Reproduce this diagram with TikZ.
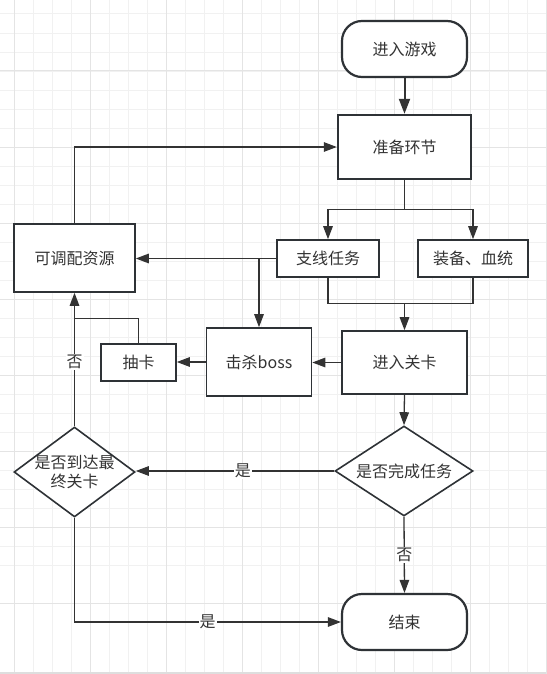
\documentclass[tikz,border=0pt]{standalone}
\usepackage{fontspec}
\setmainfont{Noto Sans CJK SC}
\usetikzlibrary{arrows.meta,shapes.geometric}
\definecolor{ink}{HTML}{333333}
\definecolor{edge}{HTML}{2E3236}
\definecolor{gminor}{HTML}{F1F1F1}
\definecolor{gmajor}{HTML}{E4E4E4}
\definecolor{strip}{HTML}{DEDEDE}
\newcommand\myfs{\fontsize{16}{19}\selectfont}
\begin{document}
\begin{tikzpicture}[x=1pt,y=-1pt,
  box/.style={draw=edge, line width=1.6pt, fill=white, text=ink, inner sep=0pt, font=\myfs, rectangle},
  thickbox/.style={box, line width=2.4pt},
  term/.style={box, line width=2.2pt, rounded corners=20pt},
  decision/.style={diamond, draw=edge, line width=1.6pt, fill=white, inner sep=0pt},
  txt/.style={text=ink, font=\myfs, align=center, inner sep=0pt},
  line/.style={draw=ink, line width=1.3pt},
  conn/.style={line, -{Triangle[length=13pt,width=9.5pt]}},
  thickconn/.style={draw=ink, line width=2pt, -{Triangle[length=15pt,width=11pt]}},
  lbl/.style={fill=white, text=ink, font=\myfs, inner sep=1pt}]
\useasboundingbox (0,0) rectangle (546,674);
\fill[white] (0,0) rectangle (546,674);
% grid
\foreach \i in {-1,...,29} {
  \draw[gminor, line width=1pt] ({14+19.03*\i},0) -- ({14+19.03*\i},674);
  \draw[gminor, line width=1pt] (0,{14+19.03*\i}) -- (546,{14+19.03*\i});
}
\foreach \i in {0,...,8} {
  \draw[gmajor, line width=1pt] ({14+76.12*\i},0) -- ({14+76.12*\i},674);
  \draw[gmajor, line width=1pt] (0,{-5.12+76.12*\i}) -- (546,{-5.12+76.12*\i});
}
\fill[strip] (0,671.5) rectangle (546,674);
% nodes
\node[term, minimum width=125pt, minimum height=56pt] (start) at (404.5,49) {进入游戏};
\node[thickbox, minimum width=133pt, minimum height=64pt] (prep) at (404.5,147) {准备环节};
\node[box, minimum width=121pt, minimum height=68pt] (res) at (74.5,258) {可调配资源};
\node[box, minimum width=102pt, minimum height=37pt] (side) at (328,258.5) {支线任务};
\node[box, minimum width=110pt, minimum height=37pt] (equip) at (473,258.5) {装备、血统};
\node[box, minimum width=75pt, minimum height=37pt] (card) at (138.5,362.5) {抽卡};
\node[box, minimum width=105pt, minimum height=68pt] (boss) at (259,362) {击杀boss};
\node[box, minimum width=125pt, minimum height=63pt] (level) at (404.5,362.5) {进入关卡};
\node[decision, minimum width=138pt, minimum height=90pt] (d1) at (404,471) {};
\node[txt] at (d1) {是否完成任务};
\node[decision, minimum width=121pt, minimum height=90pt] (d2) at (74.5,472) {};
\node[txt] at (d2) {是否到达最\\终关卡};
\node[term, minimum width=125pt, minimum height=56pt] (end) at (404.5,622) {结束};
% connectors
\draw[thickconn] (start) -- (prep);
\draw[conn] (res.north) |- (prep.west);
\coordinate (split) at (404.5,209.3);
\draw[line] (prep.south) -- (split);
\draw[conn] (split) -| (side.north);
\draw[conn] (split) -| (equip.north);
\draw[conn] (side.west) -- (side.west -| res.east);
\draw[conn] (side.west -| boss.north) -- (boss.north);
\coordinate (merge) at (404.5,303.3);
\draw[line] (side.south) |- (merge);
\draw[line] (equip.south) |- (merge);
\draw[conn] (merge) -- (level.north);
\draw[conn] (level.west) -- (level.west -| boss.east);
\draw[conn] (boss.west) -- (boss.west -| card.east);
\coordinate (cj) at (74.5,318.3);
\draw[line] (card.north) |- (cj);
\draw[conn] (d2.north) -- node[lbl, pos=0.48] {否} (res.south);
\draw[conn] (level.south) -- (d1.north);
\draw[conn] (d1.west) -- node[lbl, pos=0.46] {是} (d1.west -| d2.east);
\draw[conn] (d1.south) -- node[lbl, pos=0.5] {否} (end.north);
\draw[conn] (d2.south) |- node[lbl, pos=0.75] {是} (end.west);
\end{tikzpicture}
\end{document}
